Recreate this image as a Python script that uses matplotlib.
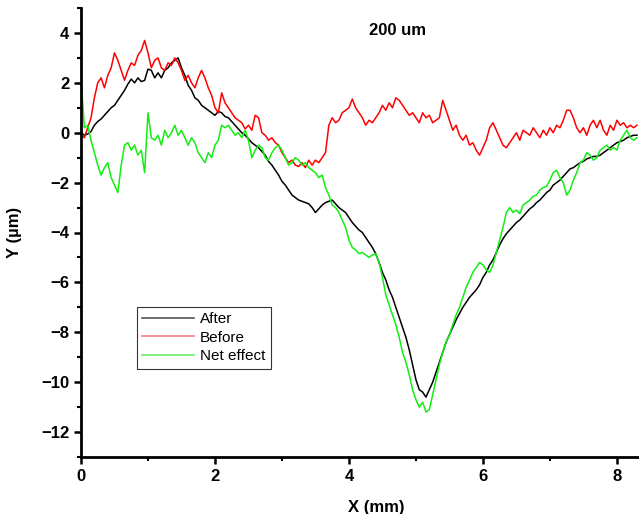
import numpy as np
import matplotlib.pyplot as plt
from matplotlib.ticker import MultipleLocator

plt.rcParams['font.family'] = ['Liberation Sans', 'DejaVu Sans']

# sample positions along the scan (mm), 0.05 mm step
x_mm = np.round(np.arange(0, 8.301, 0.05), 2)

after = [
    0.0, -0.1, -0.05, 0.05, 0.3, 0.45, 0.55, 0.7, 0.85, 1.0,
    1.1, 1.3, 1.5, 1.7, 1.95, 2.15, 2.0, 2.2, 2.05, 2.1,
    2.55, 2.5, 2.2, 2.4, 2.2, 2.5, 2.6, 2.8, 2.9, 3.0,
    2.6, 2.3, 1.9, 1.7, 1.4, 1.3, 1.1, 1.0, 0.9, 0.8,
    0.7, 0.85, 0.8, 0.65, 0.6, 0.45, 0.3, 0.15, 0.0, -0.1,
    -0.25, -0.4, -0.5, -0.6, -0.75, -0.9, -1.15, -1.3, -1.5, -1.7,
    -1.95, -2.1, -2.3, -2.5, -2.6, -2.7, -2.75, -2.8, -2.85, -3.0,
    -3.2, -3.05, -2.9, -2.8, -2.75, -2.7, -2.85, -3.0, -3.1, -3.2,
    -3.4, -3.6, -3.75, -3.9, -4.0, -4.2, -4.4, -4.6, -4.85, -5.2,
    -5.6, -5.9, -6.3, -6.6, -7.0, -7.4, -7.8, -8.2, -8.7, -9.3,
    -9.9, -10.3, -10.4, -10.6, -10.3, -10.0, -9.6, -9.2, -8.8, -8.4,
    -8.1, -7.8, -7.5, -7.25, -7.0, -6.8, -6.6, -6.45, -6.3, -6.1,
    -5.8, -5.6, -5.3, -5.1, -4.8, -4.5, -4.25, -4.05, -3.9, -3.75,
    -3.6, -3.5, -3.35, -3.2, -3.05, -2.95, -2.8, -2.7, -2.55, -2.4,
    -2.3, -2.1, -2.0, -1.9, -1.75, -1.6, -1.45, -1.4, -1.3, -1.2,
    -1.15, -1.05, -1.0, -0.95, -0.95, -0.9, -0.8, -0.7, -0.6, -0.5,
    -0.4, -0.35, -0.3, -0.2, -0.15, -0.1, -0.1,
]

before = [
    -0.1, -0.2, 0.2, 0.6, 1.4, 2.0, 2.2, 1.8, 2.3, 2.6,
    3.2, 2.9, 2.5, 2.1, 2.5, 2.8, 2.7, 3.1, 3.3, 3.7,
    3.2, 2.6, 2.9, 3.0, 2.6, 2.5, 2.8, 2.7, 3.0, 2.8,
    2.5, 2.1, 2.3, 2.0, 1.8, 2.2, 2.5, 2.2, 1.8, 1.5,
    1.0, 0.8, 1.6, 1.2, 1.0, 0.8, 0.6, 0.5, 0.4, 0.15,
    0.3, 0.1, 0.7, 0.6, 0.0, -0.1, -0.3, -0.2, -0.4, -0.5,
    -0.8, -1.0, -1.2, -1.1, -1.3, -1.35, -1.2, -1.4, -1.1, -1.3,
    -1.1, -1.2, -1.0, -0.8, 0.3, 0.6, 0.4, 0.5, 0.8, 0.9,
    1.0, 1.35, 1.0, 0.8, 0.6, 0.3, 0.5, 0.4, 0.6, 0.8,
    1.1, 0.9, 1.2, 1.0, 1.4, 1.3, 1.1, 0.9, 0.7, 0.8,
    0.6, 0.4, 0.8, 0.6, 0.7, 0.4, 0.5, 0.6, 1.3, 0.9,
    0.5, 0.1, 0.3, -0.1, -0.3, -0.1, -0.5, -0.4, -0.7, -0.9,
    -0.6, -0.3, 0.2, 0.4, 0.1, -0.2, -0.5, -0.6, -0.4, -0.2,
    0.0, -0.3, 0.1, 0.0, -0.1, 0.2, 0.0, -0.2, 0.1, -0.1,
    0.2, 0.0, 0.3, 0.2, 0.5, 0.9, 0.9, 0.6, 0.2, 0.0,
    0.2, -0.1, 0.3, 0.5, 0.2, 0.5, 0.1, -0.1, 0.3, 0.1,
    0.5, 0.3, 0.4, 0.2, 0.3, 0.2, 0.3,
]

net_effect = [
    2.2, 0.2, 0.3, -0.3, -0.8, -1.3, -1.7, -1.4, -1.2, -1.8,
    -2.1, -2.4, -1.3, -0.5, -0.4, -0.7, -0.5, -0.9, -0.7, -1.6,
    0.8, -0.2, -0.3, -0.1, -0.5, 0.1, -0.2, 0.0, 0.3, -0.1,
    0.1, -0.2, -0.5, -0.2, -0.4, -0.8, -1.0, -1.2, -0.8, -1.0,
    -0.5, -0.3, 0.3, 0.2, 0.3, 0.1, -0.1, 0.0, -0.2, 0.1,
    -0.3, -1.0, -0.7, -0.5, -0.6, -1.0, -1.1, -0.8, -0.6, -0.5,
    -0.7, -1.0, -1.3, -1.2, -1.0, -1.1, -1.3, -1.2, -1.4, -1.5,
    -1.6, -1.8, -1.7, -2.2, -2.5, -2.9, -3.0, -3.2, -3.5, -3.8,
    -4.3, -4.6, -4.7, -4.85, -4.8, -4.9, -5.0, -4.9, -4.85, -5.2,
    -5.8, -6.5, -6.9, -7.3, -7.7, -8.2, -8.8, -9.2, -9.7, -10.3,
    -10.7, -11.0, -10.8, -11.2, -11.1, -10.5, -9.9, -9.3, -8.8, -8.4,
    -8.1, -7.7, -7.3, -7.0, -6.6, -6.2, -5.9, -5.6, -5.4, -5.2,
    -5.3, -5.5, -5.6, -5.3, -4.8, -4.3, -3.8, -3.2, -3.0, -3.2,
    -3.1, -3.25, -2.9, -2.8, -2.7, -2.55, -2.5, -2.3, -2.2, -2.15,
    -1.9, -1.6, -1.5, -1.8, -2.0, -2.5, -2.3, -1.9, -1.6, -1.2,
    -1.1, -0.8, -0.9, -1.1, -1.0, -0.7, -0.6, -0.5, -0.7, -0.6,
    -0.7, -0.3, -0.1, 0.1, -0.2, -0.3, -0.2,
]

fig = plt.figure(figsize=(6.39, 5.14), dpi=100)
ax = fig.add_axes([81/639, 57/514, 558/639, 449/514])

ax.plot(x_mm, after, color='black', lw=1.1, label='After')
ax.plot(x_mm, before, color='#ff0000', lw=1.1, label='Before')
ax.plot(x_mm, net_effect, color='#11ee11', lw=1.1, label='Net effect')

ax.set_xlim(0, 8.33)
ax.set_ylim(-13, 5)
ax.xaxis.set_major_locator(MultipleLocator(2))
ax.xaxis.set_minor_locator(MultipleLocator(1))
ax.yaxis.set_major_locator(MultipleLocator(2))
ax.yaxis.set_minor_locator(MultipleLocator(1))

for s in ['top', 'right']:
    ax.spines[s].set_visible(False)
for s in ['left', 'bottom']:
    ax.spines[s].set_linewidth(2)
ax.tick_params(which='major', direction='out', length=5, width=1.8, labelsize=12)
ax.tick_params(which='minor', direction='out', length=3, width=1.5)
for lab in ax.get_xticklabels() + ax.get_yticklabels():
    lab.set_fontweight('bold')

ax.set_xlabel('X (mm)', fontsize=12, fontweight='bold')
ax.set_ylabel('Y (µm)', fontsize=12, fontweight='bold')
ax.xaxis.set_label_coords(0.53, -0.095)
ax.yaxis.set_label_coords(-0.105, 0.5)

ax.text(4.72, 4.1, '200 um', fontsize=12, fontweight='bold', ha='center', va='center')

leg = ax.legend(loc='upper left', bbox_to_anchor=(48/558, (457-299)/449),
                frameon=True, fancybox=False, edgecolor='black', fontsize=11,
                handlelength=3.4, borderpad=0.35, labelspacing=0.3, handletextpad=0.4)
leg.get_frame().set_linewidth(0.8)
for line, c in zip(leg.get_lines(), ['#555555', '#f08080', '#66ee66']):
    line.set_color(c)
    line.set_linewidth(1.2)

fig.savefig('out.png', dpi=100)
